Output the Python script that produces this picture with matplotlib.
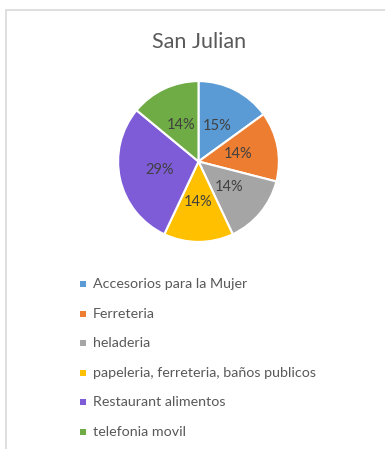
import matplotlib
matplotlib.use("Agg")
import matplotlib.pyplot as plt
from matplotlib.patches import Rectangle

plt.rcParams['font.family'] = ['Lato', 'DejaVu Sans']

title = "San Julian"
categories = [
    "Accesorios para la Mujer",
    "Ferreteria",
    "heladeria",
    "papeleria, ferreteria, baños publicos",
    "Restaurant alimentos",
    "telefonia movil",
]
shares = [15, 14, 14, 14, 29, 14]
colors = ["#5B9BD5", "#ED7D31", "#A5A5A5", "#FFC000", "#7E5CD8", "#6FAC46"]

W, H = 385, 449
fig = plt.figure(figsize=(W / 100, H / 100), dpi=100)
fig.patch.set_facecolor("white")

# chart-area frame (only the top and left edges fall inside the canvas)
frame = Rectangle((6.5 / W, -0.1), 1.2, 1.1 - 10.5 / H, transform=fig.transFigure,
                  fill=False, edgecolor="#D9D9D9", linewidth=1.2)
fig.add_artist(frame)

fig.text(199 / W, 1 - 42 / H, title, ha="center", va="center",
         fontsize=15.5, color="#595959")

cx, cy, r = 198.5, 161.5, 82
ax = fig.add_axes([(cx - r) / W, 1 - (cy + r) / H, 2 * r / W, 2 * r / H])
wedges, texts, autotexts = ax.pie(
    shares, colors=colors, startangle=90, counterclock=False,
    autopct=lambda p: f"{p:.0f}%", pctdistance=0.5,
    wedgeprops=dict(edgecolor="white", linewidth=1.5),
    textprops=dict(fontsize=10.5, color="#404040"),
)
ax.set_xlim(-1.02, 1.02)
ax.set_ylim(-1.02, 1.02)
ax.set_aspect("equal")
ax.axis("off")

# legend rows
y0, dy = 284, 29.6
for i, (name, col) in enumerate(zip(categories, colors)):
    y = y0 + i * dy
    fig.add_artist(Rectangle(((83 - 3) / W, 1 - (y + 3) / H), 6 / W, 6 / H,
                             transform=fig.transFigure, facecolor=col,
                             edgecolor="none"))
    fig.text(93 / W, 1 - y / H, name, ha="left", va="center",
             fontsize=10.3, color="#595959")

fig.savefig("out.png", dpi=100, facecolor="white")
